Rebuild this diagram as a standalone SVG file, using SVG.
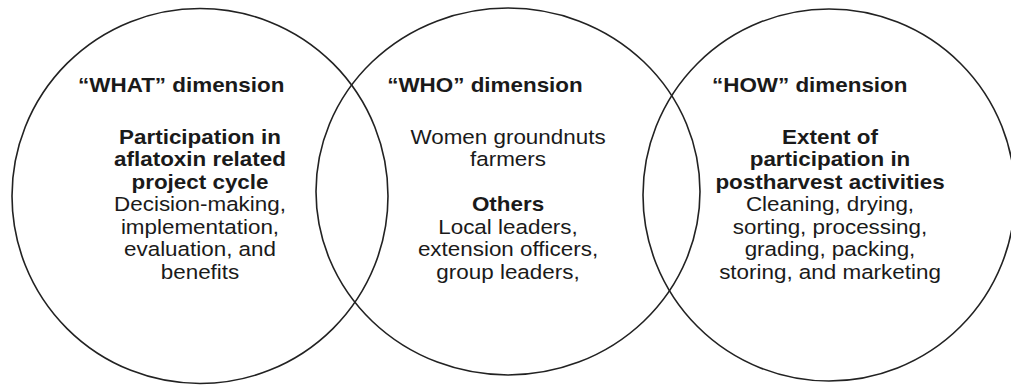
<svg xmlns="http://www.w3.org/2000/svg" width="1011" height="385" viewBox="0 0 1011 385">
<style>
.c{fill:none;stroke:#222;stroke-width:1.6}
text{font-family:"Liberation Sans",Arial,sans-serif;font-size:19.5px;fill:#1a1a1a}
.b{font-weight:bold}
.m{text-anchor:middle}
</style>
<rect width="1011" height="385" fill="#fff"/>
<g id="what">
<ellipse class="c" cx="200" cy="196" rx="188" ry="187.5"/>
<g transform="translate(200 0) scale(1.15 1)">
<text class="b" x="-106" y="92">“WHAT” dimension</text>
<text class="m" x="0" y="144"><tspan class="b" x="0">Participation in</tspan><tspan class="b" x="0" dy="22.5">aflatoxin related</tspan><tspan class="b" x="0" dy="22.5">project cycle</tspan><tspan x="0" dy="22.5">Decision-making,</tspan><tspan x="0" dy="22.5">implementation,</tspan><tspan x="0" dy="22.5">evaluation, and</tspan><tspan x="0" dy="22.5">benefits</tspan></text>
</g>
</g>
<g id="who">
<ellipse class="c" cx="508" cy="191.5" rx="192" ry="183.5"/>
<g transform="translate(508 0) scale(1.15 1)">
<text class="b" x="-105" y="92">“WHO” dimension</text>
<text class="m" x="0" y="144"><tspan x="0">Women groundnuts</tspan><tspan x="0" dy="22.5">farmers</tspan><tspan class="b" x="0" dy="45">Others</tspan><tspan x="0" dy="22.5">Local leaders,</tspan><tspan x="0" dy="22.5">extension officers,</tspan><tspan x="0" dy="22.5">group leaders,</tspan></text>
</g>
</g>
<g id="how">
<ellipse class="c" cx="829" cy="195" rx="186" ry="186"/>
<g transform="translate(830 0) scale(1.15 1)">
<text class="b" x="-102.6" y="92">“HOW” dimension</text>
<text class="m" x="0" y="144"><tspan class="b" x="0">Extent of</tspan><tspan class="b" x="0" dy="22.5">participation in</tspan><tspan class="b" x="0" dy="22.5">postharvest activities</tspan><tspan x="0" dy="22.5">Cleaning, drying,</tspan><tspan x="0" dy="22.5">sorting, processing,</tspan><tspan x="0" dy="22.5">grading, packing,</tspan><tspan x="0" dy="22.5">storing, and marketing</tspan></text>
</g>
</g>
<g id="connectors"></g>
</svg>
